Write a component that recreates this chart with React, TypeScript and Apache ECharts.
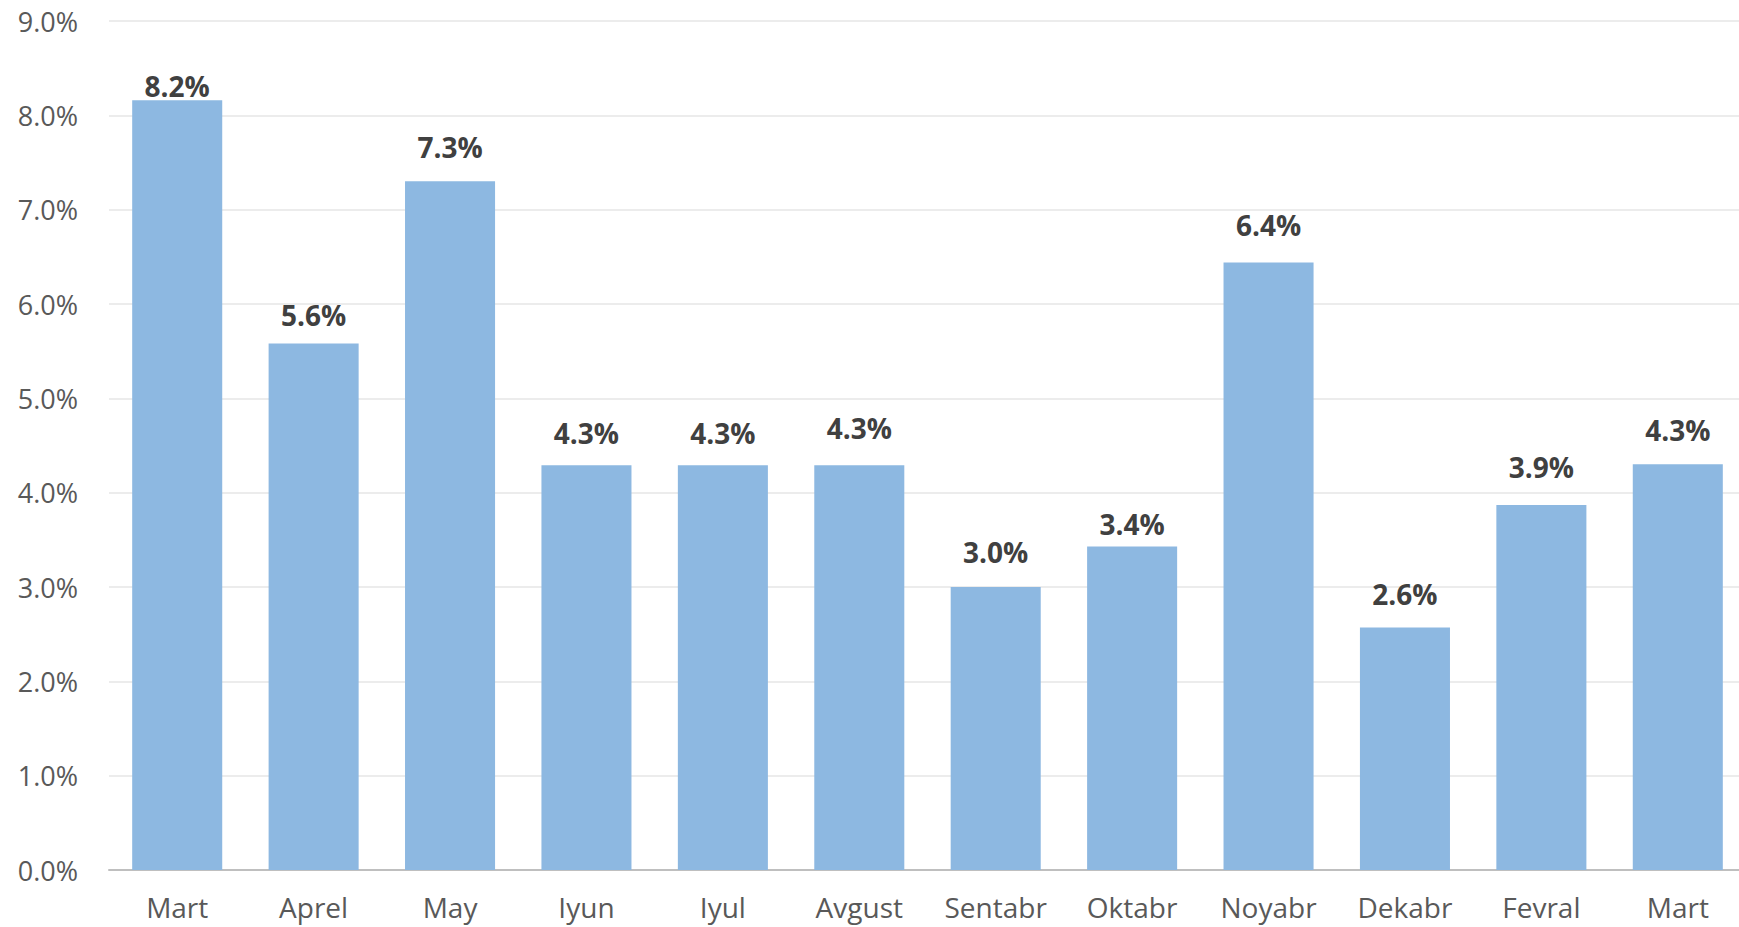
import React, { useEffect, useRef } from "react";
import * as echarts from "echarts";

const categories = ["Mart", "Aprel", "May", "Iyun", "Iyul", "Avgust", "Sentabr", "Oktabr", "Noyabr", "Dekabr", "Fevral", "Mart"];
const values = [8.16, 5.58, 7.3, 4.29, 4.29, 4.29, 3.0, 3.43, 6.44, 2.57, 3.87, 4.3];

// label distance above each bar (Excel-style placement)
const labelDistances = [0, 15, 20, 18, 18, 23, 21, 8, 23, 20, 24, 20];

export default function App() {
  const ref = useRef<HTMLDivElement>(null);
  useEffect(() => {
    if (!ref.current) return;
    const chart = echarts.init(ref.current, undefined, { renderer: "svg" });
    chart.setOption({
      animation: false,
      backgroundColor: "#ffffff",
      grid: { left: 109, right: 0, top: 21, bottom: 57, containLabel: false },
      xAxis: {
        type: "category",
        data: categories,
        axisLine: { lineStyle: { color: "#bfbfbf", width: 2 } },
        axisTick: { show: false },
        axisLabel: {
          color: "#595959",
          fontFamily: "Open Sans",
          fontSize: 28,
          margin: 22,
          lineHeight: 30,
        },
      },
      yAxis: {
        type: "value",
        min: 0,
        max: 9,
        interval: 1,
        axisLine: { show: false },
        axisTick: { show: false },
        splitLine: { lineStyle: { color: "#e6e6e6", width: 1.5 } },
        axisLabel: {
          color: "#595959",
          fontFamily: "Open Sans",
          fontSize: 27,
          margin: 31,
          formatter: (v: number) => v.toFixed(1) + "%",
        },
      },
      series: [
        {
          type: "bar",
          barWidth: "66%",
          itemStyle: { color: "#8db8e1" },
          data: values.map((v, i) => ({
            value: v,
            label: { distance: labelDistances[i] },
          })),
          label: {
            show: true,
            position: "top",
            color: "#404040",
            fontFamily: "Open Sans",
            fontWeight: "bold",
            fontSize: 28,
            formatter: (p: any) => Number(p.value).toFixed(1) + "%",
          },
        },
      ],
    });
    return () => chart.dispose();
  }, []);
  return (
    <div
      ref={ref}
      style={{ position: "fixed", left: 0, top: 0, width: 1746, height: 927 }}
    />
  );
}
